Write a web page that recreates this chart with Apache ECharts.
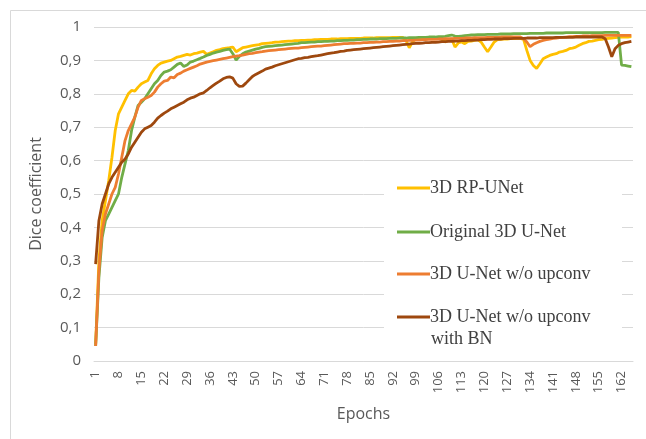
<!DOCTYPE html>
<html>
<head>
<meta charset="utf-8">
<script src="https://cdn.jsdelivr.net/npm/echarts@6/dist/echarts.min.js"></script>
<style>
  html, body { margin: 0; padding: 0; background: #ffffff; }
  #chart { width: 646px; height: 439px; }
</style>
</head>
<body>
<div id="chart"></div>
<script>
// Dice coefficient per training epoch (epochs 1..165)
const epochCount = 165;
const epochs = [];
for (let e = 1; e <= epochCount; e++) epochs.push(String(e));

const seriesNames = [
  '3D RP-UNet',
  'Original 3D U-Net',
  '3D U-Net w/o upconv',
  '3D U-Net w/o upconv with BN'
];

const rpUnet = [
  0.05, 0.30, 0.42, 0.48, 0.54, 0.61, 0.69, 0.74, 0.76, 0.78,
  0.80, 0.81, 0.808, 0.82, 0.83, 0.835, 0.84, 0.86, 0.875, 0.885,
  0.892, 0.895, 0.898, 0.90, 0.905, 0.91, 0.912, 0.915, 0.918, 0.916,
  0.92, 0.922, 0.925, 0.927, 0.918, 0.922, 0.926, 0.93, 0.932, 0.935,
  0.937, 0.938, 0.94, 0.926, 0.932, 0.938, 0.94, 0.942, 0.944, 0.946,
  0.947, 0.95, 0.951, 0.952, 0.953, 0.955, 0.955, 0.956, 0.957, 0.958,
  0.958, 0.959, 0.959, 0.96, 0.96, 0.961, 0.961, 0.962, 0.962, 0.963,
  0.963, 0.963, 0.964, 0.964, 0.964, 0.965, 0.965, 0.965, 0.966, 0.966,
  0.966, 0.966, 0.967, 0.967, 0.967, 0.967, 0.968, 0.968, 0.968, 0.968,
  0.968, 0.969, 0.969, 0.969, 0.969, 0.96, 0.938, 0.955, 0.965, 0.967,
  0.966, 0.967, 0.968, 0.968, 0.967, 0.966, 0.963, 0.955, 0.96, 0.965,
  0.94, 0.952, 0.955, 0.95, 0.957, 0.958, 0.96, 0.962, 0.955, 0.94,
  0.926, 0.94, 0.955, 0.962, 0.963, 0.964, 0.964, 0.965, 0.965, 0.966,
  0.966, 0.963, 0.93, 0.90, 0.885, 0.876, 0.89, 0.905, 0.91, 0.915,
  0.918, 0.92, 0.925, 0.927, 0.93, 0.935, 0.937, 0.94, 0.945, 0.95,
  0.953, 0.957, 0.958, 0.96, 0.962, 0.963, 0.965, 0.966, 0.967, 0.968,
  0.969, 0.97, 0.97, 0.97, 0.971
];

const originalUnet = [
  0.045, 0.25, 0.37, 0.42, 0.44, 0.46, 0.48, 0.50, 0.55, 0.59,
  0.63, 0.69, 0.73, 0.765, 0.775, 0.785, 0.80, 0.815, 0.83, 0.84,
  0.855, 0.865, 0.868, 0.872, 0.88, 0.888, 0.892, 0.882, 0.886, 0.895,
  0.898, 0.902, 0.906, 0.91, 0.915, 0.918, 0.922, 0.925, 0.927, 0.93,
  0.932, 0.934, 0.92, 0.901, 0.912, 0.92, 0.925, 0.928, 0.931, 0.934,
  0.936, 0.939, 0.941, 0.942, 0.943, 0.944, 0.945, 0.946, 0.947, 0.948,
  0.949, 0.95, 0.951, 0.953, 0.953, 0.954, 0.955, 0.955, 0.956, 0.956,
  0.957, 0.957, 0.958, 0.958, 0.959, 0.959, 0.96, 0.96, 0.961, 0.961,
  0.962, 0.962, 0.963, 0.963, 0.964, 0.964, 0.964, 0.965, 0.965, 0.965,
  0.966, 0.966, 0.966, 0.967, 0.967, 0.967, 0.968, 0.968, 0.968, 0.969,
  0.969, 0.969, 0.97, 0.97, 0.97, 0.971, 0.971, 0.972, 0.974, 0.976,
  0.973, 0.972, 0.973, 0.974, 0.975, 0.976, 0.976, 0.977, 0.977, 0.977,
  0.978, 0.978, 0.978, 0.978, 0.979, 0.979, 0.979, 0.979, 0.98, 0.98,
  0.98, 0.98, 0.98, 0.981, 0.981, 0.981, 0.981, 0.981, 0.982, 0.982,
  0.982, 0.982, 0.982, 0.982, 0.983, 0.983, 0.983, 0.983, 0.983, 0.983,
  0.983, 0.983, 0.983, 0.983, 0.983, 0.983, 0.984, 0.984, 0.984, 0.984,
  0.984, 0.886, 0.885, 0.883, 0.881
];

const noUpconv = [
  0.045, 0.27, 0.39, 0.44, 0.47, 0.50, 0.52, 0.56, 0.61, 0.66,
  0.69, 0.71, 0.73, 0.76, 0.78, 0.785, 0.79, 0.795, 0.805, 0.82,
  0.83, 0.838, 0.84, 0.85, 0.848, 0.858, 0.862, 0.868, 0.872, 0.876,
  0.88, 0.884, 0.889, 0.892, 0.895, 0.897, 0.899, 0.901, 0.903, 0.905,
  0.907, 0.909, 0.911, 0.913, 0.914, 0.916, 0.918, 0.92, 0.921, 0.923,
  0.925, 0.926, 0.928, 0.929, 0.93, 0.931, 0.932, 0.933, 0.934, 0.935,
  0.936, 0.937, 0.937, 0.938, 0.939, 0.94, 0.941, 0.942, 0.943, 0.943,
  0.944, 0.945, 0.946, 0.947, 0.948, 0.949, 0.95, 0.95, 0.951, 0.951,
  0.952, 0.952, 0.953, 0.953, 0.954, 0.954, 0.955, 0.955, 0.956, 0.956,
  0.957, 0.957, 0.958, 0.958, 0.959, 0.959, 0.96, 0.96, 0.961, 0.961,
  0.962, 0.962, 0.963, 0.963, 0.963, 0.964, 0.964, 0.965, 0.965, 0.965,
  0.966, 0.966, 0.966, 0.967, 0.967, 0.967, 0.968, 0.968, 0.968, 0.968,
  0.969, 0.969, 0.969, 0.969, 0.97, 0.97, 0.97, 0.97, 0.97, 0.97,
  0.97, 0.965, 0.955, 0.941, 0.948, 0.953, 0.957, 0.96, 0.962, 0.964,
  0.966, 0.967, 0.968, 0.969, 0.97, 0.971, 0.971, 0.972, 0.972, 0.973,
  0.973, 0.973, 0.974, 0.974, 0.974, 0.974, 0.975, 0.975, 0.975, 0.975,
  0.975, 0.975, 0.975, 0.975, 0.975
];

const noUpconvBn = [
  0.29, 0.42, 0.47, 0.50, 0.53, 0.55, 0.565, 0.58, 0.595, 0.605,
  0.62, 0.64, 0.655, 0.67, 0.685, 0.695, 0.70, 0.705, 0.715, 0.727,
  0.735, 0.742, 0.748, 0.755, 0.76, 0.765, 0.77, 0.775, 0.782, 0.787,
  0.79, 0.795, 0.80, 0.803, 0.81, 0.818, 0.825, 0.832, 0.838, 0.845,
  0.849, 0.851, 0.847, 0.83, 0.822, 0.823, 0.832, 0.842, 0.852, 0.858,
  0.863, 0.868, 0.874, 0.877, 0.88, 0.884, 0.887, 0.89, 0.893, 0.896,
  0.899, 0.902, 0.905, 0.906, 0.908, 0.909, 0.911, 0.913, 0.914, 0.916,
  0.918, 0.92, 0.922, 0.923, 0.925, 0.927, 0.928, 0.93, 0.931, 0.932,
  0.933, 0.934, 0.935, 0.936, 0.937, 0.938, 0.939, 0.94, 0.941, 0.942,
  0.943, 0.944, 0.945, 0.946, 0.947, 0.948, 0.949, 0.95, 0.951, 0.951,
  0.952, 0.953, 0.953, 0.954, 0.954, 0.955, 0.956, 0.956, 0.957, 0.957,
  0.958, 0.958, 0.959, 0.959, 0.96, 0.96, 0.961, 0.961, 0.962, 0.962,
  0.963, 0.963, 0.964, 0.964, 0.964, 0.965, 0.965, 0.965, 0.966, 0.966,
  0.966, 0.966, 0.967, 0.967, 0.967, 0.967, 0.968, 0.968, 0.968, 0.968,
  0.968, 0.969, 0.969, 0.969, 0.969, 0.969, 0.969, 0.97, 0.97, 0.97,
  0.97, 0.97, 0.97, 0.97, 0.97, 0.97, 0.965, 0.94, 0.911, 0.935,
  0.945, 0.95, 0.953, 0.955, 0.957
];

const seriesValues = [rpUnet, originalUnet, noUpconv, noUpconvBn];
const seriesColors = ['#FFC000', '#70AD47', '#ED7D31', '#9E480E'];

const axisFont = '"Open Sans", "Liberation Sans", sans-serif';
const legendFont = '"Liberation Serif", "DejaVu Serif", serif';
const legendTextColor = '#404040';
const legendFontSize = 18;

const chart = echarts.init(document.getElementById('chart'), null, { renderer: 'canvas' });

// Legend rows: one legend component per entry so each row sits at its own height.
// The last entry wraps onto a second line ("with BN"), drawn just below its row.
const legendRowCentres = [188, 232, 274, 317];
const legendLabel = n => (n === seriesNames[3] ? '3D U-Net w/o upconv' : n);
const legends = seriesNames.map((name, i) => ({
  data: [name],
  left: 397,
  top: legendRowCentres[i] - 10,
  orient: 'vertical',
  icon: 'rect',
  itemWidth: 33,
  itemHeight: 3,
  itemGap: 0,
  padding: 0,
  selectedMode: false,
  formatter: legendLabel,
  textStyle: {
    fontFamily: legendFont,
    fontSize: legendFontSize,
    color: legendTextColor,
    lineHeight: 20,
    padding: [0, 0, 0, -5]
  }
}));

const option = {
  backgroundColor: '#ffffff',
  animation: false,
  color: seriesColors,
  graphic: [
    {
      type: 'rect',
      shape: { x: 10.5, y: 10.5, width: 700, height: 500 },
      style: { fill: 'none', stroke: '#d9d9d9', lineWidth: 1 },
      silent: true,
      z: 0
    },
    {
      type: 'rect',
      shape: { x: 384, y: 166, width: 238, height: 186 },
      style: { fill: '#ffffff' },
      silent: true,
      z: 1
    },
    {
      type: 'text',
      x: 431,
      y: 339,
      style: {
        text: 'with BN',
        font: legendFontSize + 'px ' + legendFont,
        fill: legendTextColor,
        textVerticalAlign: 'middle',
        verticalAlign: 'middle'
      },
      silent: true,
      z: 5
    }
  ],
  legend: legends,
  grid: { left: 94, right: 13, top: 27, bottom: 78, containLabel: false },
  xAxis: {
    type: 'category',
    data: epochs,
    boundaryGap: true,
    name: 'Epochs',
    nameLocation: 'middle',
    nameGap: 45,
    nameTextStyle: { fontFamily: axisFont, fontSize: 16, color: '#595959' },
    axisLine: { show: true, lineStyle: { color: '#d9d9d9', width: 1 } },
    axisTick: { show: false },
    axisLabel: {
      interval: 6,
      rotate: 90,
      margin: 10,
      fontFamily: axisFont,
      fontSize: 13,
      color: '#595959'
    },
    splitLine: { show: false }
  },
  yAxis: {
    type: 'value',
    min: 0,
    max: 1,
    interval: 0.1,
    name: 'Dice coefficient',
    nameLocation: 'middle',
    nameGap: 50,
    nameTextStyle: { fontFamily: axisFont, fontSize: 16, color: '#595959' },
    axisLine: { show: false },
    axisTick: { show: false },
    axisLabel: {
      margin: 13,
      fontFamily: axisFont,
      fontSize: 15,
      color: '#595959',
      formatter: v => {
        const r = Math.round(v * 10) / 10;
        return String(r).replace('.', ',');
      }
    },
    splitLine: { show: true, lineStyle: { color: '#d9d9d9', width: 1 } }
  },
  series: seriesNames.map((name, i) => ({
    name: name,
    type: 'line',
    data: seriesValues[i],
    showSymbol: false,
    symbol: 'none',
    smooth: false,
    lineStyle: { width: 2.8, color: seriesColors[i] },
    itemStyle: { color: seriesColors[i] },
    z: 2
  }))
};

chart.setOption(option);
</script>
</body>
</html>
